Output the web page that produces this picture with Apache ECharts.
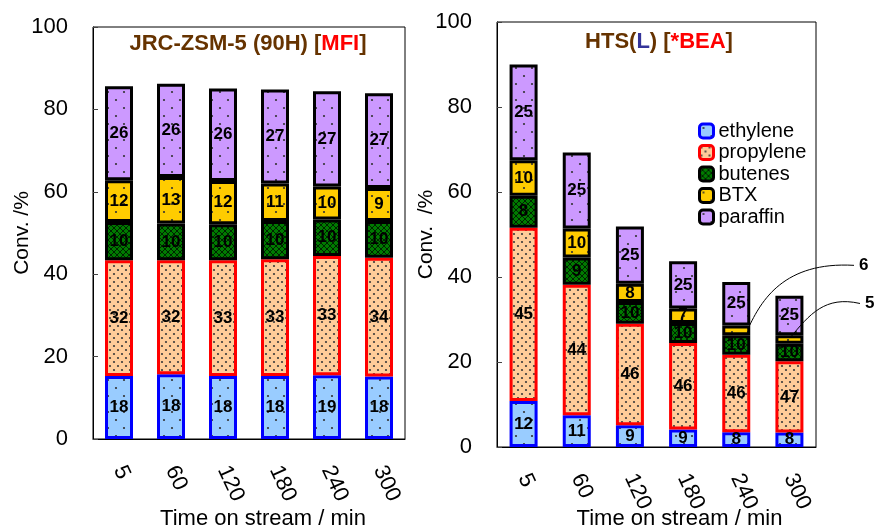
<!DOCTYPE html>
<html>
<head>
<meta charset="utf-8">
<script src="https://cdn.jsdelivr.net/npm/echarts@6/dist/echarts.min.js"></script>
<style>html,body{margin:0;padding:0;background:#fff}#c{width:874px;height:528px}</style>
</head>
<body>
<div id="c"></div>
<script>
// ---- data ----
const categories = ['5', '60', '120', '180', '240', '300'];
const seriesNames = ['ethylene', 'propylene', 'butenes', 'BTX', 'paraffin'];
const yTicks = [0, 20, 40, 60, 80, 100];

// Left: JRC-ZSM-5 (90H) [MFI] - conversion contributions (%)
const L_ethylene  = [15.3, 15.7, 15.3, 15.3, 15.5, 15.2];
const L_propylene = [28.1, 27.7, 28.1, 28.3, 28.9, 28.8];
const L_butenes   = [9.3, 8.9, 8.7, 9.3, 8.9, 8.9];
const L_btx       = [10.1, 11.3, 10.5, 9.1, 8.0, 8.0];
const L_paraffin  = [22.8, 22.6, 22.5, 22.8, 23.1, 23.0];
// Left selectivity labels
const L_ethylene_lbl  = [18, 18, 18, 18, 19, 18];
const L_propylene_lbl = [32, 32, 33, 33, 33, 34];
const L_butenes_lbl   = [10, 10, 10, 10, 10, 10];
const L_btx_lbl       = [12, 13, 12, 11, 10, 9];
const L_paraffin_lbl  = [26, 26, 26, 27, 27, 27];

// Right: HTS(L) [*BEA]
const R_ethylene  = [10.8, 7.5, 5.1, 4.1, 3.5, 3.4];
const R_propylene = [40.8, 30.7, 23.9, 20.4, 18.2, 16.8];
const R_butenes   = [7.5, 6.4, 5.1, 4.7, 4.6, 4.1];
const R_btx       = [8.4, 6.8, 4.3, 3.4, 2.3, 2.0];
const R_paraffin  = [22.5, 17.9, 13.5, 11.1, 10.2, 9.3];
const R_ethylene_lbl  = [12, 11, 9, 9, 8, 8];
const R_propylene_lbl = [45, 44, 46, 46, 46, 47];
const R_butenes_lbl   = [8, 9, 10, 10, 10, 10];
const R_btx_lbl       = [10, 10, 8, 7, 6, 5];
const R_paraffin_lbl  = [25, 25, 25, 25, 25, 25];
const R_btx_callout   = [4, 5]; // indices labelled by callouts

// ---- patterns ----
function dotPattern(bg, size, dots, r, dotColor) {
  const c = document.createElement('canvas');
  c.width = size; c.height = size;
  const g = c.getContext('2d');
  g.fillStyle = bg; g.fillRect(0, 0, size, size);
  g.fillStyle = dotColor;
  dots.forEach(d => { g.beginPath(); g.arc(d[0], d[1], r, 0, Math.PI * 2); g.fill(); });
  return { image: c, repeat: 'repeat' };
}
function hatchPattern(bg, line) {
  const s = 6;
  const c = document.createElement('canvas');
  c.width = s; c.height = s;
  const g = c.getContext('2d');
  g.fillStyle = bg; g.fillRect(0, 0, s, s);
  g.strokeStyle = line; g.lineWidth = 1;
  g.beginPath();
  g.moveTo(0, 0); g.lineTo(s, s);
  g.moveTo(s, 0); g.lineTo(0, s);
  g.stroke();
  return { image: c, repeat: 'repeat' };
}
const fills = {
  ethylene: dotPattern('#99CCFF', 16, [[4, 4], [12, 12]], 1.1, '#333'),
  propylene: dotPattern('#FFCC99', 8, [[2, 2], [6, 6]], 1.1, '#3a3a3a'),
  butenes: hatchPattern('#007a00', '#002200'),
  BTX: dotPattern('#FFCC00', 16, [[4, 4], [12, 12]], 1.1, '#333'),
  paraffin: dotPattern('#CC99FF', 16, [[4, 4], [12, 12]], 1.1, '#333')
};
const borders = { ethylene: '#0000FF', propylene: '#FF0000', butenes: '#000', BTX: '#000', paraffin: '#000' };

const FONT = 'Liberation Sans, Arial, sans-serif';
const G = [
  { left: 93, top: 27, width: 312, height: 412 },
  { left: 497, top: 22, width: 319, height: 425 }
];

function mkSeries(name, data, labels, idx, hide) {
  return {
    name: name, type: 'bar', stack: 'S' + idx,
    xAxisIndex: idx, yAxisIndex: idx,
    barWidth: 28,
    data: data,
    itemStyle: { color: fills[name], borderColor: borders[name], borderWidth: 3 },
    label: {
      show: true, position: 'inside', fontSize: 17, fontWeight: 'bold',
      color: '#000', fontFamily: FONT,
      formatter: p => (hide && hide.indexOf(p.dataIndex) >= 0) ? '' : String(labels[p.dataIndex])
    },
    emphasis: { disabled: true }
  };
}

function xAxis(i, gap) {
  return {
    type: 'category', gridIndex: i, data: categories,
    boundaryGap: true,
    axisLine: { lineStyle: { color: '#000', width: 1 } },
    axisTick: { inside: true, length: 5, interval: 0, lineStyle: { color: '#444' } },
    axisLabel: { rotate: -65, fontSize: 22, color: '#000', margin: 28, fontFamily: FONT, interval: 0 },
    name: 'Time on stream / min', nameLocation: 'middle', nameGap: gap, nameMoveOverlap: false,
    nameTextStyle: { fontSize: 22, color: '#000', fontFamily: FONT, padding: [0, 0, 0, i === 0 ? 28 : 46] }
  };
}
function yAxis(i, name) {
  return {
    type: 'value', gridIndex: i, min: yTicks[0], max: yTicks[yTicks.length - 1], interval: 20,
    axisLine: { show: true, lineStyle: { color: '#000' } },
    axisTick: { show: true, inside: true, length: 5, lineStyle: { color: '#444' } },
    splitLine: { show: false },
    axisLabel: { fontSize: 22, color: '#000', margin: 25, fontFamily: FONT },
    name: name, nameLocation: 'middle', nameGap: 60, nameMoveOverlap: false,
    nameTextStyle: { fontSize: 21, color: '#000', fontFamily: FONT }
  };
}

const chart = echarts.init(document.getElementById('c'), null, { renderer: 'canvas' });
const L = [L_ethylene, L_propylene, L_butenes, L_btx, L_paraffin];
const Ll = [L_ethylene_lbl, L_propylene_lbl, L_butenes_lbl, L_btx_lbl, L_paraffin_lbl];
const R = [R_ethylene, R_propylene, R_butenes, R_btx, R_paraffin];
const Rl = [R_ethylene_lbl, R_propylene_lbl, R_butenes_lbl, R_btx_lbl, R_paraffin_lbl];
const series = [];
seriesNames.forEach((n, k) => series.push(mkSeries(n, L[k], Ll[k], 0)));
seriesNames.forEach((n, k) => series.push(mkSeries(n, R[k], Rl[k], 1, n === 'BTX' ? R_btx_callout : null)));

const brown = '#663300';
chart.setOption({
  animation: false,
  textStyle: { fontFamily: FONT },
  grid: G.map(g => Object.assign({ show: true, borderColor: '#000', borderWidth: 1, backgroundColor: 'transparent', containLabel: false, outerBoundsMode: 'none' }, g)),
  xAxis: [xAxis(0, 69), xAxis(1, 61)],
  yAxis: [yAxis(0, 'Conv. /%'), yAxis(1, 'Conv.  /%')],
  legend: {
    orient: 'vertical', left: 698, top: 121, padding: 0,
    itemWidth: 14, itemHeight: 14, itemGap: 1.5,
    textStyle: { fontSize: 20, color: '#000', fontFamily: FONT },
    data: seriesNames.map(n => ({ name: n, itemStyle: { borderColor: borders[n], borderWidth: 3 } })),
    selectedMode: false
  },
  series: series
});

// titles + callouts (positions derived from the chart's own scales)
const btxMid = i => R_ethylene[i] + R_propylene[i] + R_butenes[i] + R_btx[i] / 2;
const p6 = chart.convertToPixel({ xAxisIndex: 1, yAxisIndex: 1 }, [4, btxMid(4)]);
const p5 = chart.convertToPixel({ xAxisIndex: 1, yAxisIndex: 1 }, [5, btxMid(5)]);
const gr = G[1].left + G[1].width;
const t6 = [gr + 38, p6[1] - 65];
const t5 = [gr + 44, p5[1] - 36];
const rt = (t, txt) => ({
  type: 'text', z: 10,
  style: { x: t[0] + 5, y: t[1], text: txt, textAlign: 'left', textVerticalAlign: 'middle',
           font: 'bold 17px ' + FONT, fill: '#000' }
});
const titleRich = {
  b: { fontSize: 22, fontWeight: 'bold', fill: brown, color: brown, fontFamily: FONT },
  l: { fontSize: 22, fontWeight: 'bold', fill: '#333399', color: '#333399', fontFamily: FONT },
  r: { fontSize: 22, fontWeight: 'bold', fill: '#FF0000', color: '#FF0000', fontFamily: FONT }
};
chart.setOption({
  graphic: [
    {
      type: 'text', z: 10,
      style: { x: 248, y: 44, textAlign: 'center', textVerticalAlign: 'middle',
               text: '{b|JRC-ZSM-5 (90H) [}{r|MFI}{b|]}', rich: titleRich }
    },
    {
      type: 'text', z: 10,
      style: { x: 659, y: 42, textAlign: 'center', textVerticalAlign: 'middle',
               text: '{b|HTS(}{l|L}{b|) [}{r|*BEA}{b|]}', rich: titleRich }
    },
    {
      type: 'bezierCurve', z: 10,
      shape: { x1: t6[0], y1: t6[1], cpx1: t6[0] - 70, cpy1: t6[1] - 4, cpx2: p6[0] + 25, cpy2: p6[1] - 30, x2: p6[0] + 12, y2: p6[1] - 2 },
      style: { stroke: '#000', lineWidth: 1, fill: null }
    },
    {
      type: 'bezierCurve', z: 10,
      shape: { x1: t5[0], y1: t5[1], cpx1: t5[0] - 35, cpy1: t5[1] - 8, cpx2: p5[0] + 20, cpy2: p5[1] - 25, x2: p5[0] + 1, y2: p5[1] - 2 },
      style: { stroke: '#000', lineWidth: 1, fill: null }
    },
    rt(t6, '6'),
    rt(t5, '5')
  ]
});
</script>
</body>
</html>
